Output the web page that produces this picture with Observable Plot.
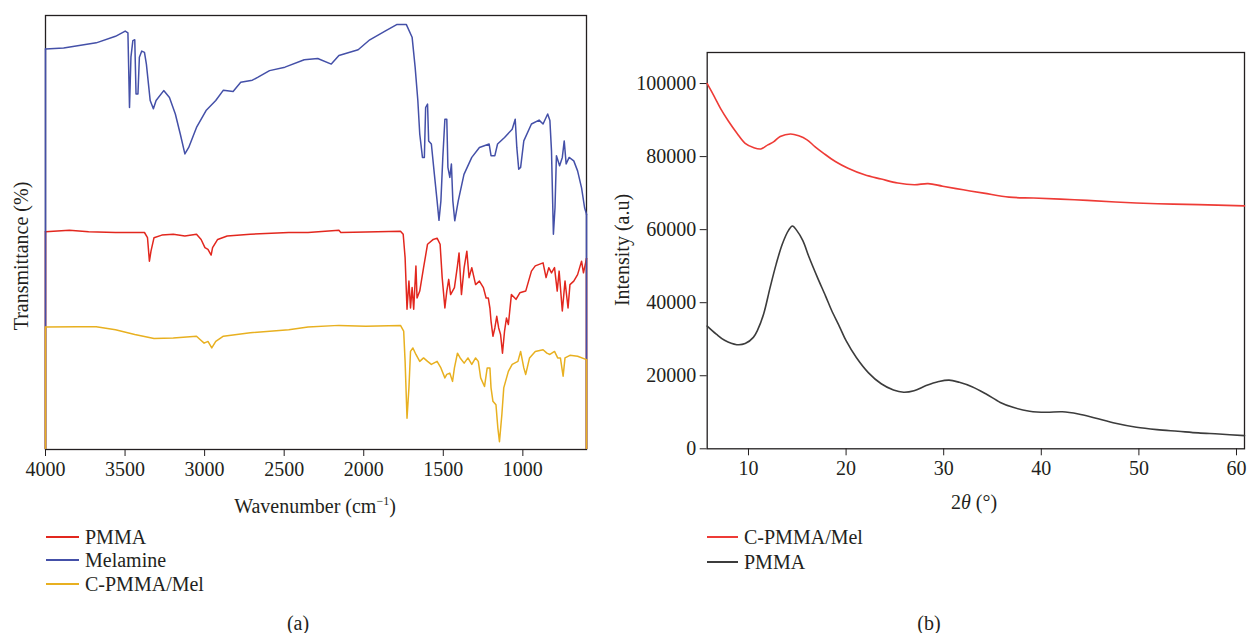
<!DOCTYPE html>
<html><head><meta charset="utf-8">
<script src="https://cdn.jsdelivr.net/npm/d3@7"></script>
<script src="https://cdn.jsdelivr.net/npm/@observablehq/plot@0.6"></script>
<style>
body{margin:0;background:#fff;font-family:"Liberation Serif",serif;color:#231f20;}
#wrap{position:relative;width:1247px;height:633px;overflow:hidden;background:#fff;}
.abs{position:absolute;font-size:20px;line-height:1;white-space:nowrap;font-family:"Liberation Serif",serif;}
.c{transform:translate(-50%,-50%);}
.rot{transform:translate(-50%,-50%) rotate(-90deg);}
.leg{position:absolute;height:0;border-top:2px solid;}
</style></head>
<body><div id="wrap">
<div id="left" style="position:absolute;left:0;top:0"></div>
<div id="right" style="position:absolute;left:600px;top:0"></div>
</div>
<script>
// ---------- FTIR (a): [wavenumber cm-1, transmittance (arb. %)] ----------
const ftirPMMA = [[4000,50.2],[3850,50.5],[3729,50.2],[3560,50.0],[3378,50.0],[3359,48.8],[3347,43.4],[3337,45.7],[3318,48.8],[3269,49.4],[3197,49.6],[3124,49.2],[3051,49.6],[3022,48.4],[2998,46.5],[2979,46.1],[2959,44.8],[2950,46.5],[2918,48.4],[2858,49.2],[2713,49.6],[2471,50.0],[2350,50.0],[2156,50.5],[2144,50.0],[1987,50.1],[1769,50.3],[1752,49.6],[1740,44.2],[1728,32.3],[1716,38.8],[1706,32.6],[1696,37.3],[1686,32.3],[1672,42.3],[1665,34.9],[1648,36.5],[1624,41.9],[1599,47.3],[1563,48.4],[1539,48.7],[1520,47.3],[1507,39.6],[1490,32.6],[1478,36.5],[1466,39.2],[1454,35.7],[1430,37.3],[1411,42.3],[1401,45.3],[1386,35.7],[1369,41.9],[1352,45.7],[1338,39.6],[1321,41.9],[1297,38.0],[1273,38.8],[1248,37.3],[1231,34.9],[1217,34.9],[1207,32.6],[1200,29.6],[1188,26.1],[1176,28.0],[1164,30.7],[1152,28.0],[1140,26.5],[1128,22.2],[1115,27.3],[1103,30.3],[1091,28.8],[1072,35.7],[1043,34.6],[1019,36.1],[982,36.5],[946,41.1],[922,42.3],[873,43.0],[854,39.6],[837,41.9],[820,40.7],[801,41.9],[784,36.5],[772,41.1],[752,31.9],[735,38.8],[716,32.6],[704,38.0],[680,38.8],[656,40.3],[631,43.4],[619,40.7],[600,44.0]];
const ftirMelamine = [[4000,92.3],[3886,92.5],[3681,93.7],[3560,95.2],[3499,96.4],[3482,96.0],[3472,78.8],[3463,90.4],[3451,94.2],[3439,94.4],[3431,81.9],[3419,81.9],[3410,90.4],[3395,91.8],[3378,91.5],[3366,88.8],[3342,80.4],[3322,78.5],[3305,80.4],[3257,82.7],[3221,81.1],[3184,77.3],[3153,72.7],[3124,68.1],[3100,69.6],[3051,74.2],[2991,78.1],[2930,80.4],[2882,82.8],[2821,82.5],[2773,84.6],[2700,85.1],[2664,85.8],[2592,87.3],[2495,88.1],[2374,89.8],[2289,90.1],[2204,88.8],[2156,90.8],[2035,92.1],[1962,94.4],[1866,96.4],[1793,97.9],[1732,97.9],[1696,95.0],[1677,88.1],[1660,80.4],[1648,72.7],[1631,67.3],[1619,67.3],[1611,78.8],[1599,79.6],[1592,71.1],[1575,70.4],[1556,63.4],[1539,57.3],[1527,52.8],[1515,57.3],[1503,67.3],[1490,76.1],[1478,76.1],[1471,65.0],[1459,62.7],[1449,65.8],[1440,57.3],[1428,52.7],[1406,57.3],[1370,63.4],[1321,67.3],[1273,69.6],[1212,70.4],[1200,67.7],[1176,67.7],[1159,70.4],[1115,71.9],[1067,73.8],[1048,76.1],[1038,69.6],[1026,64.6],[1014,65.0],[994,71.1],[946,75.0],[898,75.9],[873,75.0],[844,77.3],[830,75.8],[820,68.8],[808,49.6],[798,55.7],[789,67.7],[769,65.4],[752,67.3],[740,71.1],[728,65.8],[709,67.3],[680,66.5],[656,64.2],[631,60.3],[612,55.7],[600,54.2]];
const ftirComposite = [[4000,28.2],[3802,28.3],[3681,28.3],[3560,27.6],[3439,26.5],[3318,25.6],[3197,25.7],[3051,26.1],[3027,25.3],[3003,24.5],[2979,24.9],[2955,23.4],[2930,24.9],[2882,26.1],[2713,26.9],[2471,27.6],[2350,28.2],[2156,28.6],[1987,28.4],[1769,28.6],[1749,27.3],[1740,20.3],[1728,7.2],[1716,14.2],[1706,22.6],[1691,23.4],[1672,21.9],[1648,20.3],[1624,21.1],[1599,20.3],[1575,19.6],[1539,20.3],[1515,18.8],[1490,16.5],[1478,17.3],[1459,17.6],[1442,15.7],[1430,18.8],[1411,22.2],[1394,21.1],[1369,19.9],[1345,21.1],[1321,19.6],[1297,21.1],[1280,20.3],[1265,16.5],[1241,14.5],[1224,18.8],[1207,18.8],[1200,14.2],[1188,11.1],[1169,10.3],[1157,4.9],[1147,1.8],[1132,8.0],[1120,14.2],[1091,18.0],[1067,19.6],[1031,20.3],[1014,22.6],[994,18.8],[982,17.3],[958,21.1],[922,22.6],[873,23.0],[849,22.2],[830,21.9],[801,22.6],[781,21.1],[764,21.1],[747,16.9],[735,21.1],[704,21.7],[656,21.5],[600,20.7]];
const ftirTicks = [4000,3500,3000,2500,2000,1500,1000];
const ftirNames = ["PMMA","Melamine","C-PMMA/Mel"];
const ftirColors = ["#e2271e","#4450a8","#e8b020"];

// ---------- XRD (b): [2θ (°), intensity (a.u.)] ----------
const xrdComposite = [[5.77,100000],[6.5,96400],[7.13,93200],[7.97,89600],[8.82,86400],[9.66,83650],[10.5,82500],[11.27,82100],[11.98,83200],[12.6,84100],[13.25,85500],[14.3,86200],[15.15,85700],[16,84600],[16.8,82750],[17.7,80900],[18.9,78650],[20.2,76800],[21.9,75000],[23.6,73850],[25.3,72750],[27,72300],[28.4,72600],[29.9,71900],[32,70900],[34.1,70000],[36.7,68900],[39.2,68650],[43.4,68200],[47.6,67550],[51.9,67100],[56.1,66850],[60.82,66500]];
const xrdPMMA = [[5.77,33600],[6.7,31400],[7.55,29700],[8.8,28500],[9.66,28800],[10.5,30500],[10.93,32500],[11.56,37000],[12.2,44000],[12.83,50500],[13.46,56000],[14.1,59800],[14.5,61000],[14.94,59800],[15.57,57000],[16.2,52500],[17.05,47000],[17.9,41800],[18.5,38000],[19.37,33200],[20.0,29600],[21.05,25000],[22.3,20800],[23.6,17800],[24.85,16100],[25.9,15500],[26.96,15900],[28.2,17300],[29.5,18400],[30.55,18800],[31.6,18200],[32.9,17000],[34.35,15000],[35.8,12700],[37.1,11350],[38.8,10300],[40.5,10000],[42.15,10150],[43.8,9550],[45.5,8450],[47.6,7000],[49.75,5900],[51.85,5250],[54,4800],[56.1,4350],[58.2,4050],[60.82,3600]];
const xrdXTicks = [10,20,30,40,50,60];
const xrdYTicks = [0,20000,40000,60000,80000,100000];
const xrdNames = ["C-PMMA/Mel","PMMA"];
const xrdColors = ["#ee3b36","#3c3c3c"];

const ink = "#231f20";
const baseStyle = {fontFamily: "'Liberation Serif', serif", fontSize: "20px", color: ink, background: "transparent", overflow: "visible"};

const ftirSeries = [ftirPMMA, ftirMelamine, ftirComposite];
const ftirMarks = [Plot.frame({stroke: ink, strokeWidth: 1.3})];
ftirSeries.forEach((s, i) => {
  const ends = [s[0], s[s.length - 1]];
  ftirMarks.push(Plot.ruleX(ends, {x: d => d[0], y1: d => d[1], y2: 0, stroke: ftirColors[i], strokeWidth: 1.6}));
  ftirMarks.push(Plot.line(s, {x: d => d[0], y: d => d[1], stroke: ftirColors[i], strokeWidth: 1.5}));
});

const left = Plot.plot({
  width: 600, height: 480,
  marginLeft: 45, marginRight: 14, marginTop: 15, marginBottom: 31,
  style: baseStyle,
  x: {domain: [4000, 600], ticks: ftirTicks, tickSize: 7, tickPadding: 5, tickFormat: d3.format("d"), label: null},
  y: {domain: [0, 100], axis: null},
  marks: ftirMarks
});
document.getElementById("left").appendChild(left);

const xrdSeries = [xrdComposite, xrdPMMA];
const right = Plot.plot({
  width: 647, height: 480,
  marginLeft: 106.7, marginRight: 3, marginTop: 52, marginBottom: 31.7,
  style: baseStyle,
  x: {domain: [5.77, 60.82], ticks: xrdXTicks, tickSize: 7, tickPadding: 5, tickFormat: d3.format("d"), label: null},
  y: {domain: [0, 108500], ticks: xrdYTicks, tickSize: 7, tickPadding: 4, tickFormat: d3.format("d"), label: null},
  marks: [
    Plot.frame({stroke: ink, strokeWidth: 1.3}),
    ...xrdSeries.map((s, i) => Plot.line(s, {x: d => d[0], y: d => d[1], stroke: xrdColors[i], strokeWidth: 1.6, curve: "catmull-rom"}))
  ]
});
document.getElementById("right").appendChild(right);

// ---------- HTML text: axis titles, legends, panel tags ----------
const wrap = document.getElementById("wrap");
function addText(html, x, y, cls) {
  const d = document.createElement("div");
  d.className = "abs " + cls;
  d.style.left = x + "px"; d.style.top = y + "px";
  d.innerHTML = html;
  wrap.appendChild(d);
}
addText("Transmittance (%)", 21, 256, "rot");
addText("Wavenumber (cm<sup style='font-size:12px;vertical-align:8px'>−1</sup>)", 315, 505, "c");
addText("Intensity (a.u)", 622, 250, "rot");
addText("2<i>θ</i> (°)", 974, 502, "c");
addText("(a)", 298, 623, "c");
addText("(b)", 929, 623, "c");

function legend(names, colors, x0, x1, ys) {
  names.forEach((n, i) => {
    const l = document.createElement("div");
    l.className = "leg";
    l.style.left = x0 + "px"; l.style.width = (x1 - x0) + "px";
    l.style.top = (ys[i] - 1) + "px"; l.style.borderColor = colors[i];
    wrap.appendChild(l);
    const t = document.createElement("div");
    t.className = "abs";
    t.style.left = (x1 + 6) + "px"; t.style.top = (ys[i] - 10) + "px";
    t.textContent = n;
    wrap.appendChild(t);
  });
}
legend(ftirNames, ftirColors, 46, 79, [537, 560, 584]);
legend(xrdNames, xrdColors, 707, 738, [537, 562]);
</script>
</body></html>
